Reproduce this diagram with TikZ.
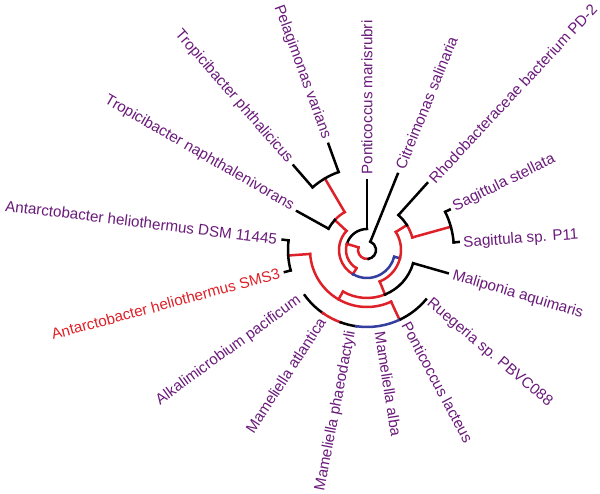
\documentclass[tikz,border=0pt]{standalone}
\usepackage{fontspec}
\setmainfont{Liberation Sans}

\definecolor{leafpurple}{RGB}{106,26,122}
\definecolor{treered}{RGB}{222,32,40}
\definecolor{treeblue}{RGB}{52,62,158}

\tikzset{
  branch/.style={line width=2.5pt, line cap=rect},
  redbranch/.style={branch, draw=treered},
  bluebranch/.style={branch, draw=treeblue},
  leafR/.style={text=leafpurple, inner sep=0.5pt, anchor=west, font=\fontsize{15.2}{18}\selectfont},
  leafL/.style={text=leafpurple, inner sep=0.5pt, anchor=east, font=\fontsize{15.2}{18}\selectfont},
}

\begin{document}
\begin{tikzpicture}[x=1pt, y=1pt]
  \useasboundingbox (0,0) rectangle (600,494);

  \begin{scope}[shift={(367,244)}]
    % Define tree centre
    \coordinate (root) at (0,0);

    % Draw root and inner nodes
    \draw[redbranch] (163:9pt) arc[start angle=163, end angle=280, radius=9pt];
    \draw[branch] (280:9pt) arc[start angle=280, end angle=428, radius=9pt];
    \draw[redbranch] (163:9pt) -- (163:21pt);
    \draw[branch] (90:21pt) arc[start angle=90, end angle=163, radius=21pt];
    \draw[redbranch] (163:21pt) arc[start angle=163, end angle=240, radius=21pt];
    \draw[redbranch] (240:21pt) -- (240:28pt);
    \draw[redbranch] (137:28pt) arc[start angle=137, end angle=240, radius=28pt];
    \draw[bluebranch] (240:28pt) arc[start angle=240, end angle=346, radius=28pt];

    % Draw Tropicibacter / Pelagimonas clade
    \draw[redbranch] (137:28pt) -- (137:44pt);
    \draw[redbranch] (120.5:44pt) arc[start angle=120.5, end angle=137, radius=44pt];
    \draw[branch] (137:44pt) arc[start angle=137, end angle=151, radius=44pt];
    \draw[redbranch] (120.5:44pt) -- (120.5:83pt);
    \draw[branch] (110:83pt) arc[start angle=110, end angle=131, radius=83pt];

    % Draw right hand clades
    \draw[bluebranch] (346:28pt) -- (346:34pt);
    \draw[redbranch] (292:34pt) arc[start angle=292, end angle=392, radius=34pt];
    \draw[redbranch] (392:34pt) -- (392:47pt);
    \draw[redbranch] (375.5:47pt) arc[start angle=375.5, end angle=392, radius=47pt];
    \draw[branch] (392:47pt) arc[start angle=392, end angle=408, radius=47pt];
    \draw[redbranch] (375.5:47pt) -- (375.5:87pt);
    \draw[branch] (365:87pt) arc[start angle=365, end angle=386, radius=87pt];

    % Draw lower clades
    \draw[redbranch] (292:34pt) -- (292:48pt);
    \draw[redbranch] (240:48pt) arc[start angle=240, end angle=292, radius=48pt];
    \draw[branch] (292:48pt) arc[start angle=292, end angle=344, radius=48pt];
    \draw[redbranch] (240:48pt) -- (240:57pt);
    \draw[redbranch] (184:57pt) arc[start angle=184, end angle=295, radius=57pt];
    \draw[redbranch] (184:57pt) -- (184:79pt);
    \draw[branch] (173:79pt) arc[start angle=173, end angle=195, radius=79pt];
    \draw[redbranch] (295:57pt) -- (295:77pt);
    \draw[branch] (216:77pt) arc[start angle=216, end angle=235, radius=77pt];
    \draw[redbranch] (235:77pt) arc[start angle=235, end angle=250, radius=77pt];
    \draw[branch] (250:77pt) arc[start angle=250, end angle=262, radius=77pt];
    \draw[bluebranch] (262:77pt) arc[start angle=262, end angle=296, radius=77pt];
    \draw[branch] (296:77pt) arc[start angle=296, end angle=320, radius=77pt];

    % Draw leaf branches
    \draw[branch] (68:9pt) -- (68:82pt);
    \draw[branch] (90:21pt) -- (90:70pt);
    \draw[branch] (48:47pt) -- (48:90pt);
    \draw[branch] (26:87pt) -- (26:92pt);
    \draw[branch] (5:87pt) -- (5:92pt);
    \draw[branch] (344:48pt) -- (344:84pt);
    \draw[branch] (173:79pt) -- (173:85pt);
    \draw[branch] (195:79pt) -- (195:85pt);
    \draw[branch] (151:44pt) -- (151:80pt);
    \draw[branch] (131:83pt) -- (131:112pt);
    \draw[branch] (110:83pt) -- (110:113pt);

    % Define leaf labels
    \node[leafR, rotate=90] (marisrubri) at (90:75pt) {Ponticoccus marisrubri};
    \node[leafR, rotate=68] (citreimonas) at (68:87pt) {Citreimonas salinaria};
    \node[leafR, rotate=47] (rhodo) at (47:94pt) {Rhodobacteraceae bacterium PD-2};
    \node[leafR, rotate=26] (stellata) at (26:96pt) {Sagittula stellata};
    \node[leafR, rotate=4] (sagp11) at (4:96pt) {Sagittula sp. P11};
    \node[leafR, rotate=-16.5] (maliponia) at (-16.5:89pt) {Maliponia aquimaris};
    \node[leafR, rotate=-40] (ruegeria) at (-40:80pt) {Ruegeria sp. PBVC088};
    \node[leafR, rotate=-62] (lacteus) at (-62:82pt) {Ponticoccus lacteus};
    \node[leafR, rotate=-81] (malba) at (-81:82pt) {Mameliella alba};
    \node[leafL, rotate=79] (mphaeo) at (-101:82pt) {Mameliella phaeodactyli};
    \node[leafL, rotate=57] (matlantica) at (-123:82pt) {Mameliella atlantica};
    \node[leafL, rotate=36] (alkali) at (-144:83pt) {Alkalimicrobium pacificum};
    \node[leafL, rotate=15, text=treered] (sms3) at (-165:90pt) {Antarctobacter heliothermus SMS3};
    \node[leafL, rotate=-7] (dsm) at (173:90pt) {Antarctobacter heliothermus DSM 11445};
    \node[leafL, rotate=-30] (naphth) at (150:85pt) {Tropicibacter naphthalenivorans};
    \node[leafL, rotate=-49] (phthal) at (131:117pt) {Tropicibacter phthalicicus};
    \node[leafL, rotate=-70] (varians) at (110:118pt) {Pelagimonas varians};
  \end{scope}
\end{tikzpicture}
\end{document}
